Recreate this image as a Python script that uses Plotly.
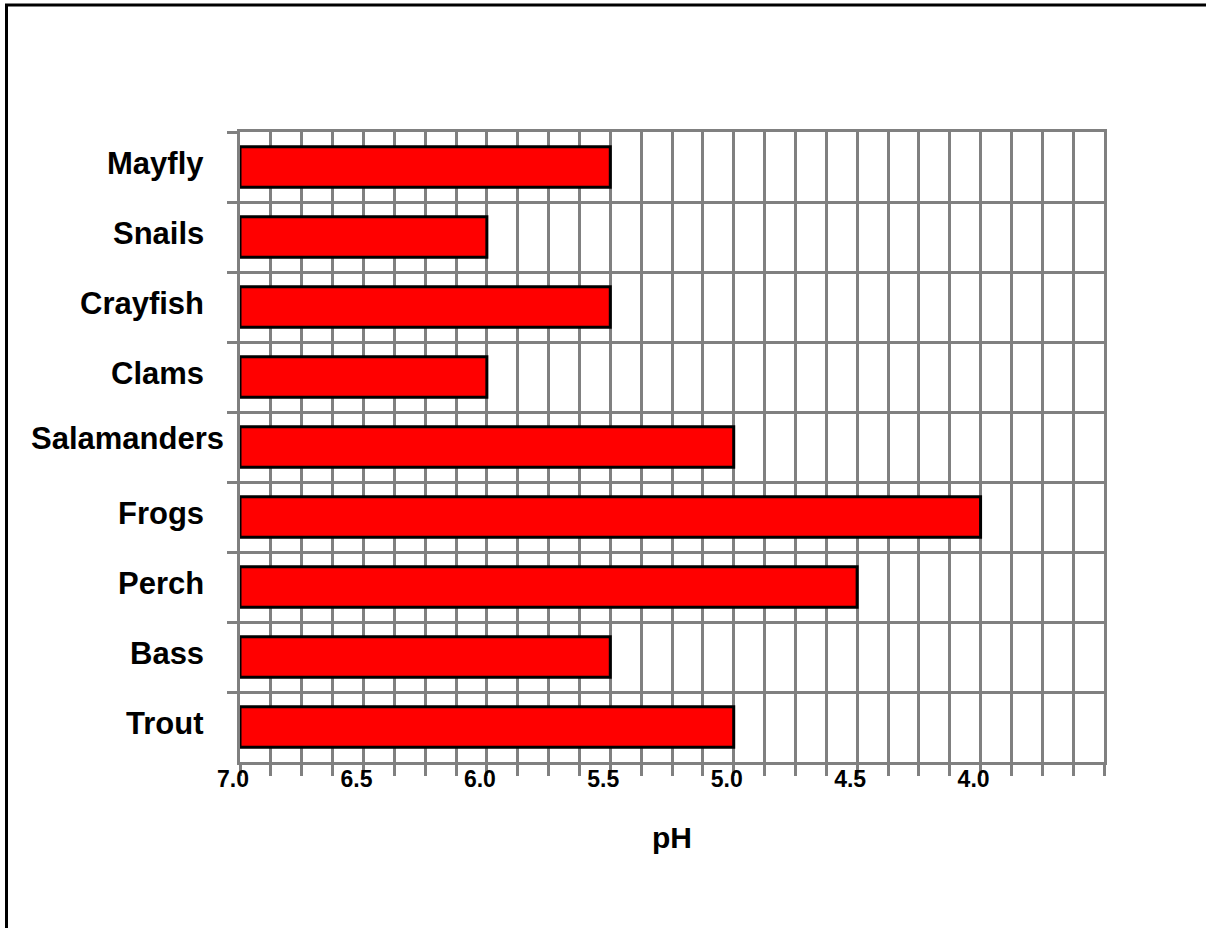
import plotly.graph_objects as go

# organisms listed top to bottom, with the lowest pH each can tolerate
organisms = ["Mayfly", "Snails", "Crayfish", "Clams", "Salamanders",
             "Frogs", "Perch", "Bass", "Trout"]
min_ph = [5.5, 6.0, 5.5, 6.0, 5.0, 4.0, 4.5, 5.5, 5.0]

neutral_ph = 7.0
tick_vals = [7.0, 6.5, 6.0, 5.5, 5.0, 4.5, 4.0]
tick_text = ["7.0", "6.5", "6.0", "5.5", "5.0", "4.5", "4.0"]

FONT = "Liberation Sans, Arial, sans-serif"
GRID = "#808080"

W, H = 1206, 928
L, R, T, B = 240, 102, 132, 166

# the long label overflows its text box in the original slide
label_nudge = {"Salamanders": (20, 5)}


def plot_ph_bars():
    """
    Horizontal bars running from neutral pH down to each organism's limit.
    """
    fig = go.Figure()
    fig.add_trace(go.Bar(
        y=organisms,
        x=[v - neutral_ph for v in min_ph],
        base=neutral_ph,
        orientation="h",
        marker=dict(color="#ff0000", line=dict(color="black", width=3)),
    ))

    fig.update_layout(
        width=W, height=H,
        margin=dict(l=L, r=R, t=T, b=B, pad=0, autoexpand=False),
        paper_bgcolor="white", plot_bgcolor="white",
        showlegend=False,
        bargap=0.42,
        font=dict(family=FONT, color="black"),
    )

    fig.update_xaxes(
        range=[7.0, 3.5],
        tickmode="array", tickvals=tick_vals, ticktext=tick_text,
        tickfont=dict(size=23, weight="bold"),
        ticks="outside", ticklen=11, tickwidth=2.5, tickcolor=GRID,
        ticklabelshift=7, ticklabelstandoff=-16,
        showgrid=True, gridcolor=GRID, gridwidth=2.5,
        minor=dict(dtick=0.125, tick0=7.0, showgrid=True, gridcolor=GRID,
                   gridwidth=2.5, ticks="outside", ticklen=11,
                   tickwidth=2.5, tickcolor=GRID),
        showline=True, linecolor=GRID, linewidth=2.5, mirror=True,
        zeroline=False, automargin=False,
        title=dict(text="pH", font=dict(size=30, weight="bold"), standoff=36),
    )

    fig.update_yaxes(
        range=[len(organisms) - 0.5, -0.5],
        tickson="boundaries",
        showticklabels=False,
        ticks="outside", ticklen=10, tickwidth=2.5, tickcolor=GRID,
        showgrid=True, gridcolor=GRID, gridwidth=2.5,
        showline=True, linecolor=GRID, linewidth=2.5, mirror=True,
        zeroline=False, automargin=False,
    )

    # category labels, right aligned next to the plot
    for name in organisms:
        dx, dy = label_nudge.get(name, (0, 0))
        fig.add_annotation(
            x=0, xref="paper", y=name, yref="y",
            text=name, showarrow=False,
            xanchor="right", yanchor="middle",
            xshift=-34 + dx, yshift=4 + dy,
            font=dict(size=31, weight="bold", color="black"),
        )

    # outer frame of the original slide, partly cut off at right and bottom
    fig.add_shape(
        type="rect", xref="paper", yref="paper",
        x0=(6.5 - L) / (W - L - R), x1=(W + 10 - L) / (W - L - R),
        y0=(H - B - (H + 3)) / (H - T - B), y1=(H - B - 5) / (H - T - B),
        line=dict(color="black", width=3), layer="above",
    )
    return fig


fig = plot_ph_bars()
fig.write_html(
    "out.html",
    config={"displayModeBar": False},
    post_script="document.body.style.margin='0';"
                "document.body.style.overflow='hidden';",
)
